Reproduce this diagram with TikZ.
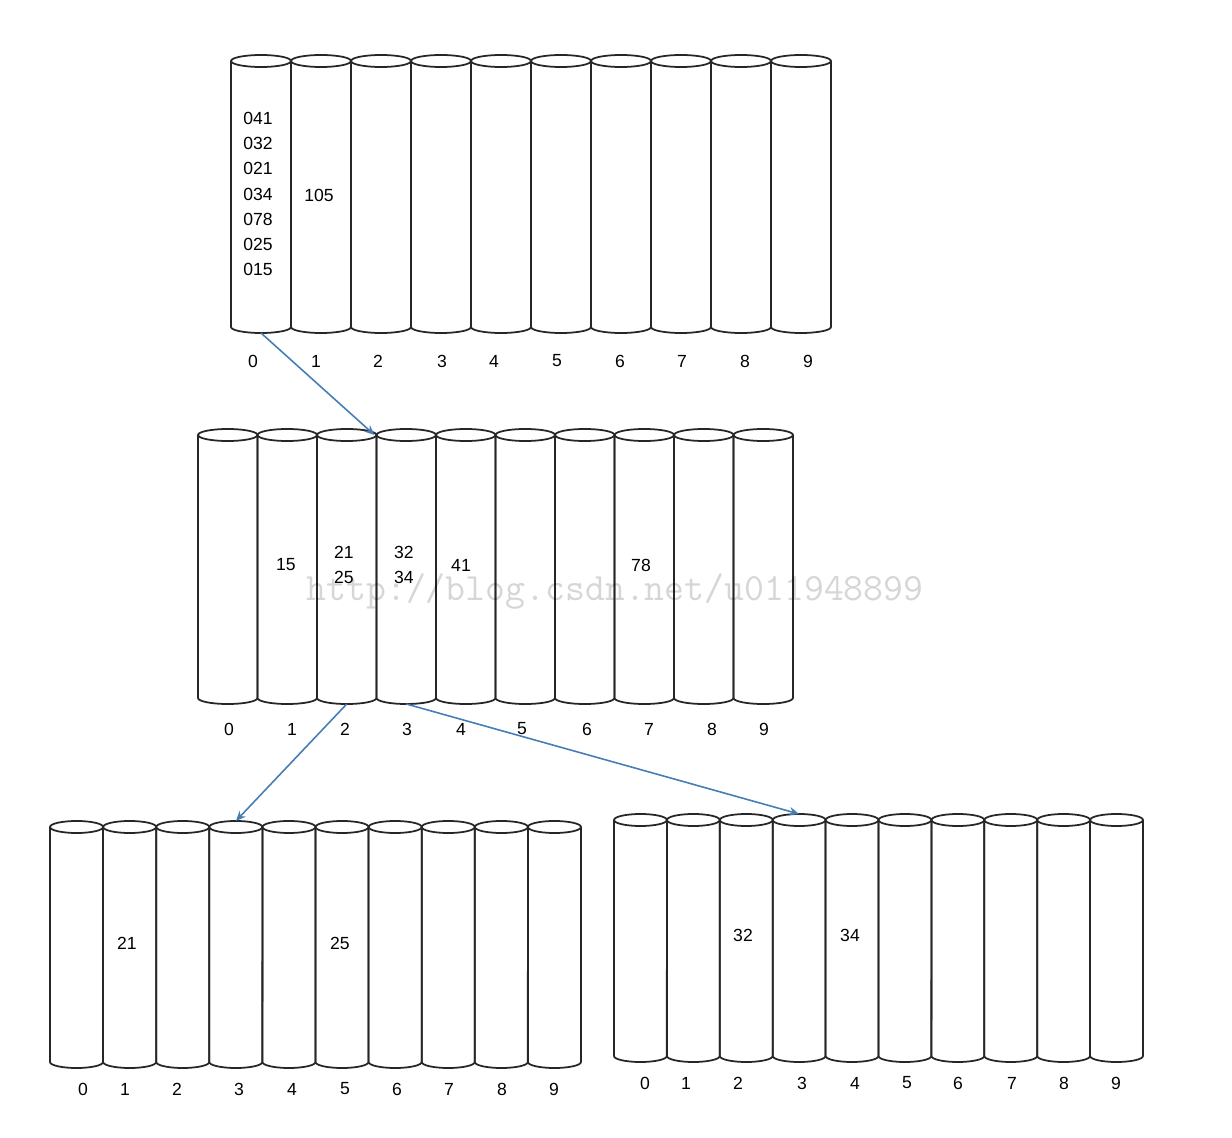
\documentclass[tikz,border=0pt]{standalone}
\usepackage{fontspec}
\setmainfont{Liberation Sans}
\usetikzlibrary{arrows.meta}
\definecolor{linkblue}{RGB}{70,125,180}
\tikzset{
  cylline/.style={draw=black!85, line width=1pt},
  cylbox/.style={rectangle, inner sep=0pt, outer sep=0pt},
  idx/.style={font=\fontsize{10}{12}\selectfont, inner sep=0pt},
  val/.style={font=\fontsize{10}{14.4}\selectfont, align=center, inner sep=0pt},
  link/.style={-{Stealth[length=2mm,width=1.7mm]}, draw=linkblue, line width=0.9pt},
  wmark/.style={font=\ttfamily\fontsize{22}{24}\selectfont, text=black, text opacity=0.16, inner sep=0pt}
}
\begin{document}
\begin{tikzpicture}[x=0.02cm, y=0.02cm]
  \useasboundingbox (0,0) rectangle (1232,-1138);
  % four rows of ten buckets
  \foreach \g/\x/\w/\yt/\yb in {t/231/60/61/327, m/198/59.5/435/698, l/50/53.1/827/1062, r/614/52.9/820/1056} {
    \foreach \i in {0,...,9} {
      \pgfmathsetmacro\rx{\w*0.01}
      \node[cylbox, minimum width=\w*0.02cm, minimum height=(\yb-\yt)*0.02cm]
        (\g\i) at ({\x+\w*\i+\w/2}, {-(\yt+\yb)/2}) {};
      \draw[cylline] (\g\i.north west) -- (\g\i.south west)
        arc[start angle=180, end angle=360, x radius=\rx cm, y radius=0.12cm] -- (\g\i.north east);
      \draw[cylline] (\g\i.north) ellipse[x radius=\rx cm, y radius=0.12cm];
    }
  }
  % bucket numbers
  \foreach \xx [count=\i from 0] in {253,316,378,442,494,557,620,682,745,808}
    \node[idx] (tn\i) at (\xx,-361) {\i};
  \foreach \xx [count=\i from 0] in {229,292,345,407,461,522,587,649,712,764}
    \node[idx] (mn\i) at (\xx,-729) {\i};
  \foreach \xx [count=\i from 0] in {83,125,177,239,292,345,397,449,502,554}
    \node[idx] (ln\i) at (\xx,-1089) {\i};
  \foreach \xx [count=\i from 0] in {645,686,738,802,855,907,958,1012,1064,1116}
    \node[idx] (rn\i) at (\xx,-1083) {\i};
  % bucket contents
  \node[val] (tv0) at (258,-194) {041\\032\\021\\034\\078\\025\\015};
  \node[val] (tv1) at (319,-195) {105};
  \node[val] (mv1) at (286,-565) {15};
  \node[val] (mv2) at (344,-565) {21\\25};
  \node[val] (mv3) at (404,-565) {32\\34};
  \node[val] (mv4) at (461,-565) {41};
  \node[val] (mv7) at (641,-565) {78};
  \node[val] (lv1) at (127,-943) {21};
  \node[val] (lv5) at (340,-943) {25};
  \node[val] (rv2) at (743,-935) {32};
  \node[val] (rv4) at (850,-935) {34};
  % links between passes
  \draw[link] ([yshift=-0.12cm]t0.south) -- ([xshift=-0.04cm]m3.north west);
  \draw[link] ([yshift=-0.12cm]m2.south) -- ([yshift=0.12cm]l3.north);
  \draw[link] ([yshift=-0.12cm]m3.south) -- ([yshift=0.12cm]r3.north);
  % watermark
  \node[wmark] (wm) at (615,-592) {http://blog.csdn.net/u011948899};
\end{tikzpicture}
\end{document}
